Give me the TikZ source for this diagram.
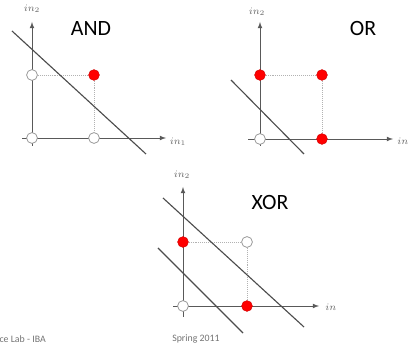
\documentclass[tikz,border=0pt]{standalone}
\usepackage{fontspec}
\setmainfont{Carlito}
\usetikzlibrary{arrows,positioning}

\begin{document}
\begin{tikzpicture}[x=0.025cm,y=-0.025cm,
	axis/.style={draw=black!65,line width=0.5pt,-latex},
	grid/.style={draw=black!30,densely dotted,line width=0.4pt},
	sep/.style={draw=black!70,line width=0.8pt},
	on/.style={circle,draw=red!80!black,fill=red,line width=0.3pt,minimum size=0.27cm,inner sep=0pt},
	off/.style={circle,draw=black!45,fill=white,line width=0.5pt,minimum size=0.27cm,inner sep=0pt},
	gate/.style={font=\fontsize{15.5}{18}\selectfont},
	axlabel/.style={text=black!60,font=\fontsize{7.5}{8}\selectfont,inner sep=0pt},
	foot/.style={text=black!55,font=\fontsize{7}{8}\selectfont,inner sep=0pt}]
	\useasboundingbox (0,0) rectangle (409,347);

	% AND
	\coordinate (a-x0) at (22,138);
	\coordinate (a-x1) at (166,138);
	\coordinate (a-y0) at (32,146);
	\coordinate (a-y1) at (32,22);
	\coordinate (a-s0) at (12,31);
	\coordinate (a-s1) at (146,154);
	\draw[axis] (a-x0) -- (a-x1);
	\draw[axis] (a-y0) -- (a-y1);
	\node[off]	(a00) at (32,138) {};
	\node[off]	(a10) at (94,138) {};
	\node[off]	(a01) at (32,75) {};
	\node[on]	(a11) at (94,75) {};
	\draw[grid] (a01) -- (a11);
	\draw[grid] (a11) -- (a10);
	\draw[sep] (a-s0) -- (a-s1);
	\node[axlabel]	(a-l1) at (178,142) {$in_1$};
	\node[axlabel]	(a-l2) at (32,9) {$in_2$};
	\node[gate]		(and) at (91,29) {AND};

	% OR
	\coordinate (o-x0) at (248,139);
	\coordinate (o-x1) at (393,139);
	\coordinate (o-y0) at (260,146);
	\coordinate (o-y1) at (260,22);
	\coordinate (o-s0) at (231,80);
	\coordinate (o-s1) at (304,154);
	\draw[axis] (o-x0) -- (o-x1);
	\draw[axis] (o-y0) -- (o-y1);
	\node[off]	(o00) at (260,139) {};
	\node[on]	(o10) at (322,139) {};
	\node[on]	(o01) at (260,75) {};
	\node[on]	(o11) at (322,75) {};
	\draw[grid] (o01) -- (o11);
	\draw[grid] (o11) -- (o10);
	\draw[sep] (o-s0) -- (o-s1);
	\node[axlabel,anchor=west]	(o-l1) at (397,142) {$in_1$};
	\node[axlabel]	(o-l2) at (257,12) {$in_2$};
	\node[gate]		(or) at (363,29) {OR};

	% XOR
	\coordinate (x-x0) at (173,306);
	\coordinate (x-x1) at (319,306);
	\coordinate (x-y0) at (183,317);
	\coordinate (x-y1) at (183,187);
	\coordinate (x-s0) at (163,198);
	\coordinate (x-s1) at (304,327);
	\coordinate (x-t0) at (158,248);
	\coordinate (x-t1) at (243,333);
	\draw[axis] (x-x0) -- (x-x1);
	\draw[axis] (x-y0) -- (x-y1);
	\node[off]	(x00) at (183,306) {};
	\node[on]	(x10) at (247,306) {};
	\node[on]	(x01) at (183,242) {};
	\node[off]	(x11) at (247,242) {};
	\draw[grid] (x01) -- (x11);
	\draw[grid] (x11) -- (x10);
	\draw[sep] (x-s0) -- (x-s1);
	\draw[sep] (x-t0) -- (x-t1);
	\node[axlabel,anchor=west]	(x-l1) at (325,307) {$in$};
	\node[axlabel]	(x-l2) at (182,175) {$in_2$};
	\node[gate]		(xor) at (270,203) {XOR};

	% footer
	\node[foot,anchor=east]	(lab) at (46,339) {ce Lab - IBA};
	\node[foot,anchor=west]	(term) at (172,339) {Spring 2011};
\end{tikzpicture}
\end{document}
